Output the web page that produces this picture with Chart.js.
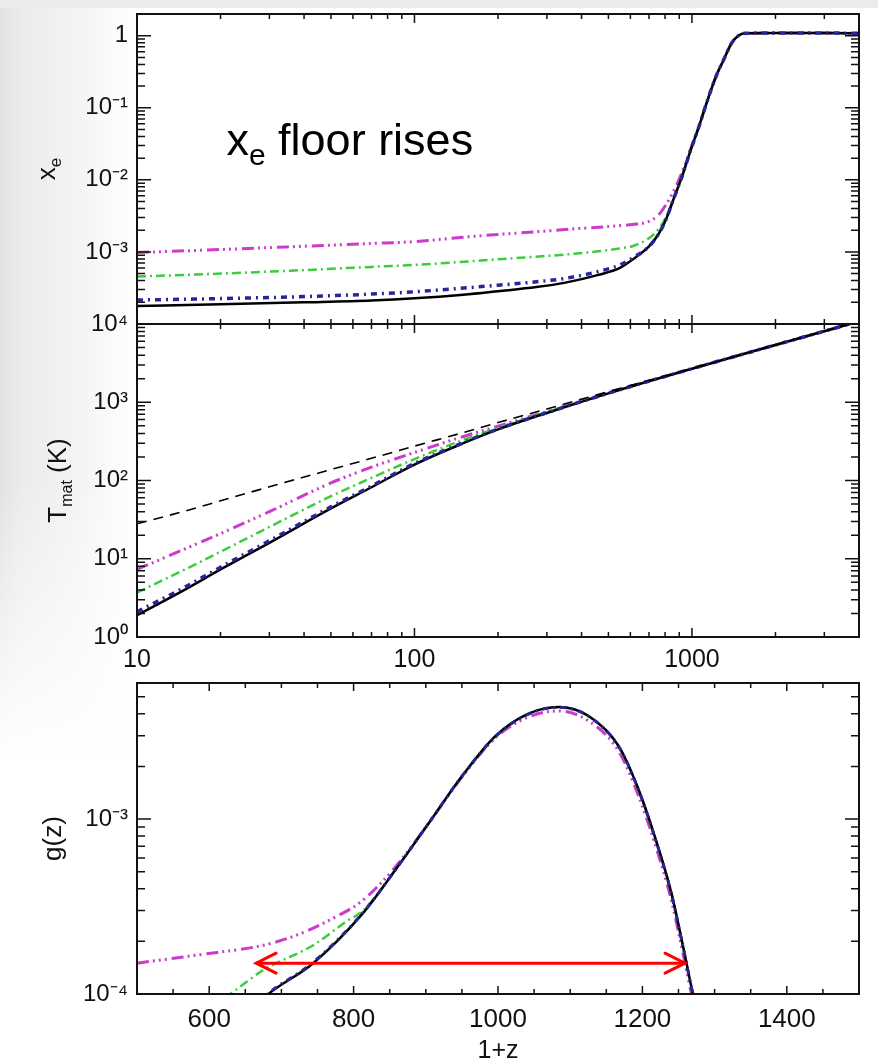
<!DOCTYPE html>
<html>
<head>
<meta charset="utf-8">
<script src="https://cdn.jsdelivr.net/npm/chart.js@4.4.1/dist/chart.umd.min.js"></script>
<style>
    html, body { margin: 0; padding: 0; }
    body {
        width: 878px; height: 1064px; overflow: hidden; position: relative;
        background:
            linear-gradient(to bottom, rgba(255,255,255,0) 0, rgba(255,255,255,0) 480px, #fff 760px),
            linear-gradient(to right, #e2e2e2 0, #ebebeb 20px, #f4f4f4 80px, #fff 135px);
    }
    #topStrip { position: absolute; left: 0; top: 0; width: 878px; height: 8px; background: #ebebeb; }
    .panel { position: absolute; left: 0; top: -50px; }
</style>
</head>
<body>
<div id="topStrip"></div>
<canvas id="chartXe" class="panel" width="878" height="1164"></canvas>
<canvas id="chartTmat" class="panel" width="878" height="1164"></canvas>
<canvas id="chartG" class="panel" width="878" height="1164"></canvas>
<script>
// ---- top panel: x_e against 1+z ----
var zXe = [10, 20, 40, 70, 100, 150, 200, 275, 350, 460, 550, 610, 700, 760, 805, 860, 920, 990, 1060, 1140, 1220, 1300, 1390, 1470, 1560, 2000, 3000, 4000];
var xeSolid = [1.78e-4, 1.88e-4, 2.0e-4, 2.12e-4, 2.27e-4, 2.55e-4, 2.85e-4, 3.25e-4, 3.75e-4, 4.8e-4, 6.0e-4, 7.8e-4, 1.19e-3, 1.8e-3, 2.78e-3, 5.5e-3, 1.1e-2, 2.6e-2, 5.5e-2, 0.13, 0.27, 0.46, 0.79, 1.0, 1.08, 1.09, 1.09, 1.08];
var xeDashed = [2.15e-4, 2.25e-4, 2.4e-4, 2.6e-4, 2.8e-4, 3.15e-4, 3.45e-4, 3.85e-4, 4.3e-4, 5.35e-4, 6.6e-4, 8.2e-4, 1.19e-3, 1.8e-3, 2.78e-3, 5.5e-3, 1.1e-2, 2.6e-2, 5.5e-2, 0.13, 0.27, 0.46, 0.79, 1.0, 1.08, 1.09, 1.09, 1.08];
var xeDashDot = [4.55e-4, 5.0e-4, 5.6e-4, 6.2e-4, 6.6e-4, 7.3e-4, 7.9e-4, 8.6e-4, 9.2e-4, 1.02e-3, 1.12e-3, 1.2e-3, 1.55e-3, 2.1e-3, 3.0e-3, 5.5e-3, 1.1e-2, 2.6e-2, 5.5e-2, 0.13, 0.27, 0.46, 0.79, 1.0, 1.08, 1.09, 1.09, 1.08];
var xeDash3Dot = [9.8e-4, 1.08e-3, 1.2e-3, 1.31e-3, 1.39e-3, 1.6e-3, 1.75e-3, 1.9e-3, 2.05e-3, 2.2e-3, 2.32e-3, 2.4e-3, 2.65e-3, 3.3e-3, 4.5e-3, 7.0e-3, 1.25e-2, 2.7e-2, 5.6e-2, 0.13, 0.27, 0.46, 0.79, 1.0, 1.08, 1.09, 1.09, 1.08];
var xeTickVals = [1e-3, 1e-2, 1e-1, 1];
var xeTickLabels = ['10⁻³', '10⁻²', '10⁻¹', '1'];

// ---- middle panel: T_mat against 1+z ----
var zT = [10, 15, 20, 30, 50, 70, 100, 150, 200, 300, 500, 1000, 2000, 4000];
var tCmb = [28, 41, 55, 83, 138, 192, 275, 410, 550, 820, 1370, 2700, 5400, 10800];
var tSolid = [1.9, 4.1, 7.3, 16, 44, 82, 160, 300, 450, 730, 1300, 2680, 5400, 10800];
var tDashed = [2.1, 4.4, 7.8, 17, 46, 85, 165, 305, 455, 735, 1305, 2680, 5400, 10800];
var tDashDot = [3.7, 7.4, 12.3, 25.5, 63, 108, 188, 330, 470, 745, 1310, 2690, 5400, 10800];
var tDash3Dot = [7.3, 13.5, 21, 40, 93, 148, 228, 365, 495, 760, 1320, 2690, 5400, 10800];
var tTickVals = [1, 10, 100, 1000, 10000];
var tTickLabels = ['10⁰', '10¹', '10²', '10³', '10⁴'];
var zLogTickVals = [10, 100, 1000];
var zLogTickLabels = ['10', '100', '1000'];

// ---- bottom panel: g(z) against 1+z ----
var zG = [650, 682, 744, 813, 859, 905, 951, 997, 1043, 1084, 1125, 1167, 1194, 1217, 1240, 1256, 1270, 1280];
var gSolid = [7.5e-5, 1.0e-4, 1.5e-4, 2.9e-4, 5.2e-4, 9.6e-4, 1.78e-3, 3.0e-3, 4.02e-3, 4.38e-3, 3.9e-3, 2.62e-3, 1.5e-3, 8.0e-4, 3.8e-4, 1.9e-4, 1.0e-4, 7.0e-5];
var gDashed = [7.6e-5, 1.01e-4, 1.52e-4, 2.92e-4, 5.2e-4, 9.6e-4, 1.78e-3, 2.98e-3, 4.0e-3, 4.36e-3, 3.88e-3, 2.6e-3, 1.49e-3, 7.9e-4, 3.75e-4, 1.88e-4, 1.0e-4, 7.0e-5];
var zGDashDot = [600, 629, 675, 744, 790, 813, 859, 905, 951, 997, 1043, 1084, 1125, 1167, 1194, 1217, 1240, 1256, 1270, 1280];
var gDashDot = [8.3e-5, 1.0e-4, 1.37e-4, 1.9e-4, 2.6e-4, 3.0e-4, 5.2e-4, 9.6e-4, 1.77e-3, 2.98e-3, 4.0e-3, 4.35e-3, 3.88e-3, 2.6e-3, 1.49e-3, 7.9e-4, 3.8e-4, 1.9e-4, 1.0e-4, 7.0e-5];
var zGDash3Dot = [500, 583, 675, 721, 767, 813, 859, 905, 951, 997, 1043, 1084, 1125, 1167, 1194, 1217, 1240, 1256, 1268, 1280];
var gDash3Dot = [1.5e-4, 1.67e-4, 1.9e-4, 2.17e-4, 2.65e-4, 3.44e-4, 5.4e-4, 9.6e-4, 1.76e-3, 2.93e-3, 3.85e-3, 4.15e-3, 3.65e-3, 2.45e-3, 1.38e-3, 7.3e-4, 3.45e-4, 1.72e-4, 1.0e-4, 6.5e-5];
var arrowZ = [665, 1259];
var arrowG = [1.5e-4, 1.5e-4];
var gTickVals = [1e-4, 1e-3];
var gTickLabels = ['10⁻⁴', '10⁻³'];
var zLinTickVals = [600, 800, 1000, 1200, 1400];
var zLinTickLabels = ['600', '800', '1000', '1200', '1400'];

var FONT = "'Liberation Sans', Arial, Helvetica, sans-serif";
var INK = '#111';
Chart.defaults.font.family = FONT;

function pts(xs, ys) {
    return xs.map(function (x, i) { return { x: x, y: ys[i] }; });
}

function curve(label, xs, ys, color, width, dash, order) {
    return {
        label: label, data: pts(xs, ys),
        borderColor: color, borderWidth: width, borderDash: dash,
        pointRadius: 0, fill: false, cubicInterpolationMode: 'monotone',
        order: order, clip: 1
    };
}

// log / linear tick mark positions for the IDL-style frame
function logMarks(min, max) {
    var out = [];
    for (var d = Math.floor(Math.log10(min)); d <= Math.ceil(Math.log10(max)); d++) {
        for (var m = 1; m < 10; m++) {
            var v = m * Math.pow(10, d);
            if (v >= min * 0.999 && v <= max * 1.001) out.push({ v: v, major: m === 1 });
        }
    }
    return out;
}
function linMarks(min, max, step, majorStep) {
    var out = [];
    for (var v = min; v <= max; v += step) out.push({ v: v, major: v % majorStep === 0 });
    return out;
}

function axis(type, min, max, vals, labels, size, pad, showLabels) {
    return {
        type: type, min: min, max: max,
        grid: { display: false, drawTicks: false }, border: { display: false },
        ticks: {
            display: showLabels, autoSkip: false, maxRotation: 0, padding: pad, color: INK,
            font: { family: FONT, size: size },
            callback: function (v, i) { return labels[i]; }
        },
        afterBuildTicks: function (s) { s.ticks = vals.map(function (v) { return { value: v }; }); }
    };
}

var frameTicks = {
    id: 'frameTicks',
    afterDraw: function (chart, args, o) {
        if (!o || !o.xMarks) return;
        var ctx = chart.ctx, a = chart.chartArea, x = chart.scales.x, y = chart.scales.y;
        ctx.save();
        ctx.strokeStyle = INK;
        ctx.lineWidth = 1.5;
        o.xMarks.forEach(function (t) {
            var px = x.getPixelForValue(t.v), len = t.major ? o.xMajor : o.xMinor;
            ctx.beginPath();
            ctx.moveTo(px, a.bottom); ctx.lineTo(px, a.bottom - len);
            ctx.moveTo(px, a.top); ctx.lineTo(px, a.top + len);
            ctx.stroke();
        });
        o.yMarks.forEach(function (t) {
            var py = y.getPixelForValue(t.v), len = t.major ? o.yMajor : o.yMinor;
            ctx.beginPath();
            ctx.moveTo(a.left, py); ctx.lineTo(a.left + len, py);
            ctx.moveTo(a.right, py); ctx.lineTo(a.right - len, py);
            ctx.stroke();
        });
        ctx.lineWidth = 2;
        ctx.strokeRect(a.left, a.top, a.right - a.left, a.bottom - a.top);
        ctx.restore();
    }
};

// rotated y title, parts = [text, size, baseline shift]
var sideTitle = {
    id: 'sideTitle',
    afterDraw: function (chart, args, o) {
        if (!o || !o.parts) return;
        var ctx = chart.ctx, a = chart.chartArea, total = 0;
        ctx.save();
        o.parts.forEach(function (p) { ctx.font = p[1] + 'px ' + FONT; total += ctx.measureText(p[0]).width; });
        ctx.translate(o.x, (a.top + a.bottom) / 2);
        ctx.rotate(-Math.PI / 2);
        ctx.fillStyle = INK;
        ctx.textBaseline = 'alphabetic';
        var cx = -total / 2;
        o.parts.forEach(function (p) {
            ctx.font = p[1] + 'px ' + FONT;
            ctx.fillText(p[0], cx, p[2]);
            cx += ctx.measureText(p[0]).width;
        });
        ctx.restore();
    }
};

var noteText = {
    id: 'noteText',
    afterDraw: function (chart, args, o) {
        if (!o || !o.parts) return;
        var ctx = chart.ctx;
        var cx = chart.scales.x.getPixelForValue(o.at[0]);
        var cy = chart.scales.y.getPixelForValue(o.at[1]);
        ctx.save();
        ctx.fillStyle = '#000';
        ctx.textBaseline = 'alphabetic';
        o.parts.forEach(function (p) {
            ctx.font = p[1] + 'px ' + FONT;
            ctx.fillText(p[0], cx, cy + p[2]);
            cx += ctx.measureText(p[0]).width;
        });
        ctx.restore();
    }
};

var arrowHeads = {
    id: 'arrowHeads',
    afterDatasetsDraw: function (chart, args, o) {
        if (!o || o.index === undefined) return;
        var els = chart.getDatasetMeta(o.index).data;
        var p0 = els[0], p1 = els[els.length - 1];
        var ctx = chart.ctx;
        ctx.save();
        ctx.strokeStyle = o.color;
        ctx.lineWidth = 3;
        ctx.lineCap = 'round';
        ctx.beginPath();
        ctx.moveTo(p0.x + 20, p0.y - 10); ctx.lineTo(p0.x, p0.y); ctx.lineTo(p0.x + 20, p0.y + 10);
        ctx.moveTo(p1.x - 20, p1.y - 10); ctx.lineTo(p1.x, p1.y); ctx.lineTo(p1.x - 20, p1.y + 10);
        ctx.stroke();
        ctx.restore();
    }
};

function options(padTop, padBottom, xAxis, yAxis, plugs) {
    return {
        responsive: false, animation: false, devicePixelRatio: 1,
        layout: { padding: { left: 0, right: 19, top: padTop, bottom: padBottom } },
        plugins: Object.assign({ legend: { display: false }, tooltip: { enabled: false } }, plugs),
        scales: { x: xAxis, y: yAxis }
    };
}

var BLACK = '#000', BLUE = '#26269a', GREEN = '#3ccc3c', MAGENTA = '#cc3ccc';
var DASH_BLUE = [6, 5, 2, 5], DASH_GREEN = [9, 4, 2, 4], DASH_MAG = [12, 4, 2, 4, 2, 4, 2, 5];

// top panel
var xTop = axis('logarithmic', 10, 4000, zLogTickVals, zLogTickLabels, 25, 8, false);
xTop.afterFit = function (s) { s.height = 0; };
var yTop = axis('logarithmic', 1e-4, 2, xeTickVals, xeTickLabels, 24, 9, true);
yTop.afterFit = function (s) { s.width = 137; };
new Chart(document.getElementById('chartXe'), {
    type: 'line',
    data: { datasets: [
        curve('solid', zXe, xeSolid, BLACK, 2.5, [], 2),
        curve('dashed', zXe, xeDashed, BLUE, 3.5, DASH_BLUE, 1),
        curve('dash-dot', zXe, xeDashDot, GREEN, 2.5, DASH_GREEN, 3),
        curve('dash-3dot', zXe, xeDash3Dot, MAGENTA, 3, DASH_MAG, 4)
    ] },
    options: options(64, 790, xTop, yTop, {
        frameTicks: { xMarks: logMarks(10, 4000), yMarks: logMarks(1e-4, 2), xMajor: 9, xMinor: 5, yMajor: 14, yMinor: 8 },
        sideTitle: { x: 55, parts: [['x', 26, 0], ['e', 17, 6]] },
        noteText: { at: [21, 0.022], parts: [['x', 45, 0], ['e', 30, 10], [' floor rises', 45, 0]] }
    }),
    plugins: [frameTicks, sideTitle, noteText]
});

// middle panel
var xMid = axis('logarithmic', 10, 4000, zLogTickVals, zLogTickLabels, 25, 8, true);
xMid.afterFit = function (s) { s.height = 40; };
var yMid = axis('logarithmic', 1, 10000, tTickVals, tTickLabels, 24, 9, true);
yMid.afterFit = function (s) { s.width = 137; };
new Chart(document.getElementById('chartTmat'), {
    type: 'line',
    data: { datasets: [
        curve('solid', zT, tSolid, BLACK, 2.5, [], 2),
        curve('dashed', zT, tDashed, BLUE, 3.5, DASH_BLUE, 1),
        curve('dash-dot', zT, tDashDot, GREEN, 2.5, DASH_GREEN, 3),
        curve('dash-3dot', zT, tDash3Dot, MAGENTA, 3, DASH_MAG, 4),
        curve('T_cmb', zT, tCmb, BLACK, 1.6, [10, 7], 0)
    ] },
    options: options(374, 437, xMid, yMid, {
        frameTicks: { xMarks: logMarks(10, 4000), yMarks: logMarks(1, 10000), xMajor: 9, xMinor: 5, yMajor: 14, yMinor: 8 },
        sideTitle: { x: 66, parts: [['T', 26, 0], ['mat', 16, 6], [' (K)', 26, 0]] }
    }),
    plugins: [frameTicks, sideTitle]
});

// bottom panel
var xBot = axis('linear', 500, 1500, zLinTickVals, zLinTickLabels, 26, 10, true);
xBot.title = { display: true, text: '1+z', color: INK, font: { family: FONT, size: 25 }, padding: { top: 0, bottom: 0 } };
xBot.afterFit = function (s) { s.height = 72; };
var yBot = axis('logarithmic', 1e-4, 6e-3, gTickVals, gTickLabels, 24, 9, true);
yBot.afterFit = function (s) { s.width = 137; };
new Chart(document.getElementById('chartG'), {
    type: 'line',
    data: { datasets: [
        curve('solid', zG, gSolid, BLACK, 2.5, [], 2),
        curve('dashed', zG, gDashed, BLUE, 3, DASH_BLUE, 1),
        curve('dash-dot', zGDashDot, gDashDot, GREEN, 2.5, DASH_GREEN, 3),
        curve('dash-3dot', zGDash3Dot, gDash3Dot, MAGENTA, 3, DASH_MAG, 4),
        curve('arrow', arrowZ, arrowG, '#ff0000', 3, [], -1)
    ] },
    options: options(733, 48, xBot, yBot, {
        frameTicks: { xMarks: linMarks(500, 1500, 50, 200), yMarks: logMarks(1e-4, 6e-3), xMajor: 8, xMinor: 5, yMajor: 14, yMinor: 8 },
        sideTitle: { x: 61, parts: [['g(z)', 26, 0]] },
        arrowHeads: { index: 4, color: '#ff0000' }
    }),
    plugins: [frameTicks, sideTitle, arrowHeads]
});
</script>
</body>
</html>
